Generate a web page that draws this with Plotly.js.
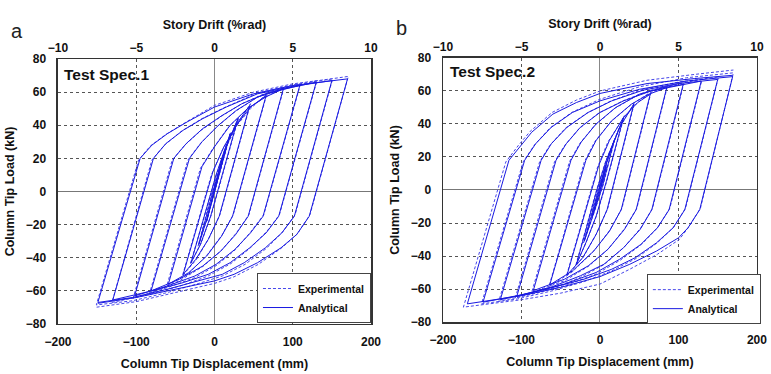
<!DOCTYPE html>
<html>
<head>
<meta charset="utf-8">
<script src="https://cdn.plot.ly/plotly-3.0.1.min.js"></script>
<style>
html,body{margin:0;padding:0;background:#fff;}
#chart{width:771px;height:374px;}
</style>
</head>
<body>
<div id="chart"></div>
<script>
// Tick values
const dispTicks = [-200, -100, 0, 100, 200];
const driftTicks = [-10, -5, 0, 5, 10];
const loadTicks = [-80, -60, -40, -20, 0, 20, 40, 60, 80];

// Test Spec.1 — [displacement (mm), load (kN)]
const spec1Experimental = [
[0,0],[11,21],[1,3],[-11,-19],[1,1],[11,19],[21,36],[1,1],[-9,-16],[-21,-33],
[-3,0],[13,25],[31,45],[5,1],[-4,-14],[-17,-31],[-31,-44],[1,8],[14,26],[30,41],[46,53],
[7,-14],[-7,-28],[-23,-41],[-41,-51],[-4,10],[10,25],[27,39],[46,50],[67,59],
[24,-14],[10,-26],[-9,-38],[-33,-49.5],[-61,-57],[-18,14],[-2,26],[18,39],[41,49.5],[65,57],[89,63],
[44,-14],[28,-25],[9,-35.5],[-14,-45],[-45,-54],[-83,-61.5],[-34,19],[-18,29],[3,39],[27,48.5],[55,57],[86,62],[110,65],
[63,-14],[47,-24],[27,-35],[3,-44.5],[-25,-52],[-60,-58],[-104,-64.5],
[-54,19],[-38,28],[-17,37],[9,45.5],[35,53],[66,59.5],[101,63.5],[131,67],
[83,-14],[67,-24],[46,-34],[21,-43.5],[-8,-51],[-40,-56.5],[-82,-62],[-131,-67],
[-80,19],[-64,28],[-42,36.5],[-16,44],[14,51],[55,59.5],[101,64.5],[151,68],
[103,-14],[87,-24.5],[66,-34.5],[39,-44],[10,-51],[-20,-55.5],[-60,-61],[-105,-66],[-151,-68.5],
[-97,19],[-82,27.5],[-62,34.5],[-36,42],[0,52],[50,60],[100,65],[141,67.5],[171,69.5],
[122,-14],[106,-25.5],[86,-34],[56,-44],[25,-51.5],[0,-55.5],[-50,-61],[-100,-66.5],[-153,-70]
];
const spec1Analytical = [
[0,0],[10,20],[0,2],[-10,-18],[0,0],[10,18],[20,35],[0,0],[-10,-17],[-20,-32],
[-2,0],[14,26],[30,44],[4,0],[-5,-15],[-18,-32],[-30,-43],[2,10],[15,28],[30,42],[45,52],
[6,-15],[-8,-29],[-24,-41],[-40,-50],[-2,12],[12,27],[28,40],[46,51],[66,58],
[23,-15],[9,-27],[-10,-39],[-33,-49],[-59,-56],[-16,15],[0,27],[20,40],[42,50],[65,57],[88,62],
[43,-15],[27,-26],[8,-36],[-15,-45],[-45,-53],[-81,-60],[-32,20],[-16,30],[5,40],[28,49],[55,57],[85,61.5],[109,64],
[62,-15],[46,-25],[26,-35],[2,-44],[-25,-51],[-60,-57],[-102,-63],
[-52,20],[-36,29],[-15,38],[10,46],[35,53],[65,59],[100,63],[130,66],
[82,-15],[66,-25],[45,-34],[20,-43],[-8,-50],[-40,-55],[-80,-60],[-130,-65.5],
[-78,20],[-62,29],[-40,37],[-15,44],[15,51],[55,59],[100,63.5],[150,67],
[102,-15],[86,-25],[65,-34],[38,-43],[10,-50],[-20,-54],[-60,-59],[-105,-64],[-149,-67],
[-95,20],[-80,28],[-60,35],[-35,42],[0,51],[50,59],[100,64],[140,66.5],[170,68],
[121,-15],[105,-26],[85,-34],[55,-43],[25,-50],[0,-54],[-50,-59],[-100,-64],[-149,-67.5]
];

// Test Spec.2
const spec2Experimental = [
[0,0],[9,15],[2,2],[-11,-17],[0,1],[9,17],[19,31],[4,3],[-7,-13],[-21,-32],
[-3,0],[11,21],[31,45],[9,6],[-4,-15],[-17,-31],[-31,-46],[-5,-1],[7,17],[24,37],[44,53],
[10,-11],[-4,-26],[-21,-40.5],[-43,-52.5],[-3,14],[10,29],[29,43],[48,53],[65,59],
[28,-11],[13,-24],[-7,-36.5],[-35,-49.5],[-65,-58.5],[-20,17],[-7,29],[13,41],[39,51.5],[62,58.5],[86,63],
[47,-11],[32,-23],[11,-35.5],[-14,-46],[-45,-55],[-87,-62],[-39,17],[-26,28],[-7,39],[19,49.5],[50,58],[81,62.5],[107,65],
[67,-11],[52,-23],[31,-34.5],[6,-45],[-25,-53],[-60,-59.5],[-108,-65.5],
[-58,17],[-45,27],[-27,37],[-2,46.5],[29,54],[65,60.5],[101,64.5],[130,67],
[89,-11],[74,-22.5],[53,-33],[26,-42.5],[-5,-51],[-45,-58],[-85,-63],[-129,-67.5],
[-77,17],[-64,27],[-44,37.5],[-17,46.5],[14,54],[55,61],[101,65.5],[151,68.5],
[109,-11],[94,-22.5],[73,-32],[46,-41.5],[15,-49],[-20,-55.5],[-60,-61],[-105,-66],[-151,-69],
[-98,17],[-84,27],[-64,37.5],[-36,47],[0,55],[50,62.5],[110,68],[170,71],
[128,-11],[113,-22.5],[101,-30],[73,-39],[38,-48],[0,-57],[-50,-62.5],[-100,-66.5],[-174,-71],
[-120,17],[-104,27],[-89,35.5],[-61,47],[-30,54.5],[0,60],[60,66.5],[120,70],[170,72.7]
];
const spec2Analytical = [
[0,0],[8,14],[1,1],[-10,-16],[-1,0],[8,16],[18,30],[3,2],[-8,-14],[-20,-31],
[-2,0],[12,22],[30,44],[8,5],[-5,-16],[-18,-32],[-30,-45],[-4,0],[8,18],[25,38],[43,52],
[9,-12],[-5,-27],[-22,-41],[-42,-51.5],[-1.5,15],[12,30],[30,44],[48,53],[64,58],
[27,-12],[12,-25],[-8,-37],[-35,-49],[-64,-57.5],[-18,18],[-5,30],[15,42],[40,52],[62,58],[85,62],
[46,-12],[31,-24],[10,-36],[-15,-46],[-45,-54],[-85,-61],[-37,18],[-24,29],[-5,40],[20,50],[50,58],[80,62],[106,64],
[66,-12],[51,-24],[30,-35],[5,-45],[-25,-52],[-60,-58.5],[-106,-64.5],
[-56,18],[-43,28],[-25,38],[0,47],[30,54],[65,60],[100,63.5],[129,66],
[88,-12],[73,-23],[52,-33],[25,-42],[-5,-50],[-45,-57],[-85,-62],[-127,-66.5],
[-75,18],[-62,28],[-42,38],[-15,47],[15,54],[55,60.5],[100,64.5],[150,67],
[108,-12],[93,-23],[72,-32],[45,-41],[15,-48],[-20,-54],[-60,-59],[-105,-64],[-149,-68],
[-96,18],[-82,28],[-62,38],[-35,47],[0,54],[50,61],[110,66],[169,68.7],
[127,-12],[112,-23],[100,-29],[72,-37],[38,-45],[0,-52.5],[-50,-59],[-100,-64],[-169,-69],
[-116,18],[-100,27],[-87,35],[-60,46],[-30,53],[0,58.5],[60,64.5],[120,67.5],[169,69.5]
];

const seriesNames = ['Experimental', 'Analytical'];
const panelLabels = ['a', 'b'];
const specLabels = ['Test Spec.1', 'Test Spec.2'];
const xTitle = 'Column Tip Displacement (mm)';
const topTitle = 'Story Drift (%rad)';
const yTitle = 'Column Tip Load (kN)';

const FONT = 'Liberation Sans, Arial, sans-serif';
const expStyle = {color: 'rgb(70,70,235)', width: 1, dash: '3px,2px'};
const anaStyle = {color: 'rgb(25,25,225)', width: 1};

function tr(pts, name, style, xa, ya, lg, show) {
  return {
    type: 'scatter', mode: 'lines',
    x: pts.map(p => p[0]), y: pts.map(p => p[1]),
    name: '<b>' + name + '</b>', line: style, xaxis: xa, yaxis: ya, legend: lg, showlegend: show,
    hoverinfo: 'skip'
  };
}

const data = [
  tr(spec1Experimental, seriesNames[0], expStyle, 'x', 'y', 'legend', true),
  tr(spec1Analytical, seriesNames[1], anaStyle, 'x', 'y', 'legend', true),
  tr(spec2Experimental, seriesNames[0], expStyle, 'x2', 'y2', 'legend2', true),
  tr(spec2Analytical, seriesNames[1], anaStyle, 'x2', 'y2', 'legend2', true),
  {type: 'scatter', mode: 'lines', x: [], y: [], xaxis: 'x3', yaxis: 'y', showlegend: false},
  {type: 'scatter', mode: 'lines', x: [], y: [], xaxis: 'x4', yaxis: 'y2', showlegend: false}
];

const tickFont = {family: FONT, size: 12, color: '#111', weight: 'bold'};
const titleFont = {family: FONT, size: 12.5, color: '#111', weight: 'bold'};

function xAxis(domain, anchor) {
  return {
    domain: domain, anchor: anchor, range: [-200, 200], tickvals: dispTicks,
    showgrid: true, gridcolor: '#555', griddash: 'dot', gridwidth: 1,
    zeroline: true, zerolinecolor: '#888', zerolinewidth: 1,
    showline: true, mirror: true, linecolor: '#333', linewidth: 1.5,
    ticks: '', tickfont: tickFont, ticklabelstandoff: 6,
    title: {text: xTitle, font: titleFont, standoff: 11}
  };
}
function topAxis(over, anchor) {
  return {
    overlaying: over, anchor: anchor, side: 'top', range: [-10, 10], tickvals: driftTicks,
    showgrid: false, zeroline: false, showline: false, ticks: '',
    tickfont: tickFont, ticklabelstandoff: 4,
    title: {text: topTitle, font: titleFont, standoff: 8}
  };
}
function yAxis(domain, anchor) {
  return {
    domain: domain, anchor: anchor, range: [-80, 80], tickvals: loadTicks,
    showgrid: true, gridcolor: '#555', griddash: 'dot', gridwidth: 1,
    zeroline: true, zerolinecolor: '#777', zerolinewidth: 1,
    showline: true, mirror: true, linecolor: '#333', linewidth: 1.5,
    ticks: '', tickfont: tickFont, ticklabelstandoff: 8,
    title: {text: yTitle, font: titleFont, standoff: 8}
  };
}
function legendBox(x, y) {
  return {
    x: x, y: y, xanchor: 'left', yanchor: 'top', xref: 'paper', yref: 'paper',
    bgcolor: '#fff', bordercolor: '#444', borderwidth: 1,
    font: {family: FONT, size: 10.5, color: '#111'},
    itemwidth: 30, tracegroupgap: 0
  };
}

const layout = {
  width: 771, height: 374,
  margin: {l: 0, r: 0, t: 0, b: 0},
  paper_bgcolor: '#fff', plot_bgcolor: '#fff',
  font: {family: FONT},
  xaxis: xAxis([0.0752, 0.4812], 'y'),
  yaxis: yAxis([0.1337, 0.8422], 'x'),
  xaxis2: xAxis([0.5746, 0.9818], 'y2'),
  yaxis2: yAxis([0.139, 0.845], 'x2'),
  xaxis3: topAxis('x', 'y'),
  xaxis4: topAxis('x2', 'y2'),
  legend: legendBox(0.3333, 0.27),
  legend2: legendBox(0.839, 0.267),
  annotations: [
    {text: panelLabels[0], xref: 'paper', yref: 'paper', x: 0.012, y: 0.918, xanchor: 'left', yanchor: 'middle', showarrow: false, font: {family: FONT, size: 20, color: '#222'}},
    {text: panelLabels[1], xref: 'paper', yref: 'paper', x: 0.511, y: 0.925, xanchor: 'left', yanchor: 'middle', showarrow: false, font: {family: FONT, size: 20, color: '#222'}},
    {text: specLabels[0], xref: 'paper', yref: 'paper', x: 0.081, y: 0.802, xanchor: 'left', yanchor: 'middle', showarrow: false, font: {family: FONT, size: 15.5, color: '#111', weight: 'bold'}},
    {text: specLabels[1], xref: 'paper', yref: 'paper', x: 0.581, y: 0.8075, xanchor: 'left', yanchor: 'middle', showarrow: false, font: {family: FONT, size: 15.5, color: '#111', weight: 'bold'}}
  ],
  showlegend: true
};

Plotly.newPlot('chart', data, layout, {displayModeBar: false, staticPlot: true});
</script>
</body>
</html>
